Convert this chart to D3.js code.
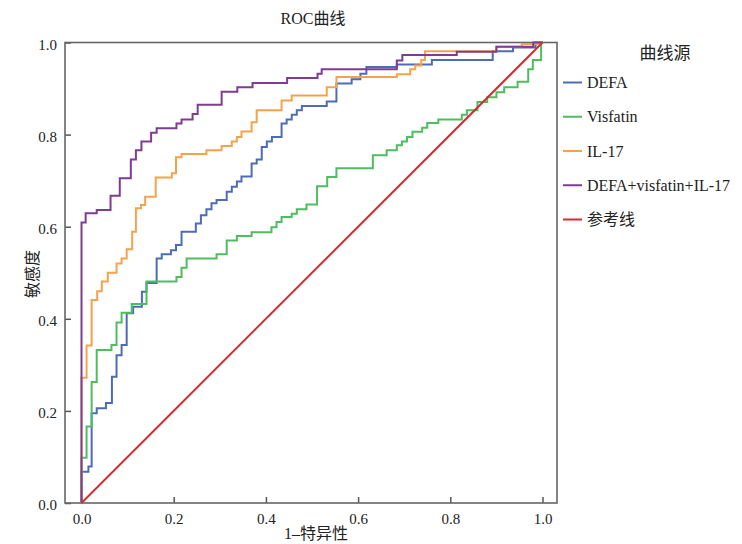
<!DOCTYPE html>
<html>
<head>
<meta charset="utf-8">
<script src="https://cdn.jsdelivr.net/npm/d3@7.9.0/dist/d3.min.js"></script>
<style>
  body { margin: 0; background: #fff; }
  svg text { font-family: "Liberation Serif", "Times New Roman", "DejaVu Serif", "Noto Sans CJK SC", serif; fill: #222; }
</style>
</head>
<body>
<svg id="chart" width="742" height="544"></svg>
<script>
// ROC points (1-specificity, sensitivity), step corners
const defaFpr = [0, 0, 0.015, 0.022, 0.033, 0.053, 0.066, 0.076, 0.087, 0.098, 0.112, 0.131, 0.141, 0.163, 0.174, 0.194, 0.205, 0.217, 0.248, 0.259, 0.271, 0.282, 0.293, 0.315, 0.326, 0.337, 0.347, 0.369, 0.380, 0.391, 0.402, 0.413, 0.434, 0.445, 0.456, 0.467, 0.478, 0.532, 0.553, 0.586, 0.605, 0.618, 0.684, 0.760, 0.892, 0.936, 0.985, 1];
const defaTpr = [0, 0.068, 0.079, 0.195, 0.206, 0.217, 0.274, 0.321, 0.343, 0.412, 0.426, 0.459, 0.478, 0.531, 0.540, 0.549, 0.560, 0.589, 0.607, 0.625, 0.638, 0.651, 0.658, 0.676, 0.687, 0.698, 0.709, 0.737, 0.746, 0.773, 0.785, 0.795, 0.824, 0.833, 0.843, 0.853, 0.862, 0.872, 0.911, 0.920, 0.932, 0.947, 0.952, 0.962, 0.981, 0.989, 1.0, 1.0];

const visFpr = [0, 0, 0.011, 0.022, 0.033, 0.065, 0.076, 0.087, 0.109, 0.141, 0.206, 0.217, 0.228, 0.293, 0.315, 0.337, 0.369, 0.412, 0.423, 0.434, 0.456, 0.467, 0.488, 0.511, 0.533, 0.553, 0.632, 0.662, 0.684, 0.695, 0.706, 0.718, 0.739, 0.750, 0.774, 0.825, 0.836, 0.859, 0.880, 0.900, 0.917, 0.946, 0.969, 0.979, 0.997, 1];
const visTpr = [0, 0.098, 0.166, 0.263, 0.332, 0.343, 0.392, 0.413, 0.432, 0.481, 0.491, 0.511, 0.531, 0.540, 0.570, 0.580, 0.588, 0.599, 0.610, 0.621, 0.628, 0.638, 0.648, 0.688, 0.708, 0.727, 0.755, 0.766, 0.777, 0.785, 0.795, 0.806, 0.815, 0.825, 0.833, 0.843, 0.853, 0.871, 0.881, 0.892, 0.903, 0.915, 0.942, 0.962, 1.0, 1.0];

const il17Fpr = [0, 0, 0.011, 0.022, 0.034, 0.044, 0.057, 0.076, 0.087, 0.098, 0.110, 0.118, 0.129, 0.138, 0.161, 0.196, 0.205, 0.217, 0.271, 0.304, 0.326, 0.337, 0.347, 0.369, 0.380, 0.434, 0.456, 0.532, 0.553, 0.684, 0.713, 0.724, 0.737, 0.745, 0.900, 0.955, 0.99, 1];
const il17Tpr = [0, 0.272, 0.342, 0.441, 0.460, 0.481, 0.500, 0.520, 0.531, 0.551, 0.589, 0.640, 0.647, 0.665, 0.707, 0.716, 0.751, 0.758, 0.766, 0.775, 0.785, 0.795, 0.807, 0.827, 0.853, 0.874, 0.885, 0.903, 0.925, 0.931, 0.942, 0.950, 0.962, 0.981, 0.991, 0.997, 1.0, 1.0];

const comboFpr = [0, 0, 0.009, 0.033, 0.063, 0.083, 0.107, 0.118, 0.130, 0.151, 0.163, 0.206, 0.217, 0.241, 0.252, 0.304, 0.338, 0.371, 0.446, 0.512, 0.521, 0.684, 0.696, 0.814, 0.900, 0.980, 1];
const comboTpr = [0, 0.609, 0.629, 0.636, 0.667, 0.705, 0.746, 0.766, 0.785, 0.804, 0.814, 0.824, 0.833, 0.845, 0.865, 0.893, 0.903, 0.912, 0.923, 0.932, 0.942, 0.961, 0.973, 0.980, 0.991, 1.0, 1.0];

const refFpr = [0, 1];
const refTpr = [0, 1];

const seriesNames = ["DEFA", "Visfatin", "IL-17", "DEFA+visfatin+IL-17", "参考线"];
const seriesColors = ["#4e6cb6", "#4fbd5f", "#f6a24c", "#7e3d91", "#d42b2e"];
const ticks = [0, 0.2, 0.4, 0.6, 0.8, 1.0];

const svg = d3.select("#chart");
const frameL = 65, frameR = 557, frameT = 42.5, frameB = 503;

const x = d3.scaleLinear().domain([0, 1]).range([81.5, 542.5]);
const y = d3.scaleLinear().domain([0, 1]).range([frameB, frameT]);

// title
svg.append("text").attr("x", 313).attr("y", 24).attr("text-anchor", "middle")
  .style("font-size", "16px").text("ROC曲线");

// axes, ticks point inward
const xAxis = svg.append("g").attr("transform", `translate(0,${frameB})`)
  .call(d3.axisBottom(x).tickValues(ticks).tickFormat(d3.format(".1f")).tickSize(-6).tickPadding(10));
const yAxis = svg.append("g").attr("transform", `translate(${frameL},0)`)
  .call(d3.axisLeft(y).tickValues(ticks).tickFormat(d3.format(".1f")).tickSize(-6).tickPadding(8));
[xAxis, yAxis].forEach(g => {
  g.attr("font-family", null);
  g.select(".domain").remove();
  g.selectAll(".tick line").attr("stroke", "#555").attr("stroke-width", 1.5);
  g.selectAll(".tick text").style("font-size", "15px").attr("fill", "#222");
});
yAxis.selectAll(".tick text").attr("dy", "0.45em");

// frame
svg.append("rect").attr("x", frameL).attr("y", frameT)
  .attr("width", frameR - frameL).attr("height", frameB - frameT)
  .attr("fill", "none").attr("stroke", "#666").attr("stroke-width", 1.6);

// curves
const stepLine = d3.line().x(d => x(d[0])).y(d => y(d[1])).curve(d3.curveStepAfter);
const straight = d3.line().x(d => x(d[0])).y(d => y(d[1]));

const curves = [
  [defaFpr, defaTpr],
  [visFpr, visTpr],
  [il17Fpr, il17Tpr],
  [comboFpr, comboTpr]
];

curves.forEach(([fx, ty], i) => {
  const pts = fx.map((v, k) => [v, ty[k]]);
  svg.append("path").attr("d", stepLine(pts))
    .attr("fill", "none").attr("stroke", seriesColors[i]).attr("stroke-width", 2);
});
svg.append("path").attr("d", straight(refFpr.map((v, k) => [v, refTpr[k]])))
  .attr("fill", "none").attr("stroke", seriesColors[4]).attr("stroke-width", 2);

// axis titles
svg.append("text").attr("x", 316).attr("y", 539).attr("text-anchor", "middle")
  .style("font-size", "16px").text("1–特异性");
svg.append("text").attr("transform", "translate(38,274) rotate(-90)")
  .attr("text-anchor", "middle").style("font-size", "16px").text("敏感度");

// legend
svg.append("text").attr("x", 665).attr("y", 59).attr("text-anchor", "middle")
  .style("font-size", "17px").text("曲线源");
const legendY = d3.scalePoint().domain(seriesNames).range([82.5, 219.5]);
const item = svg.append("g").selectAll("g").data(seriesNames).join("g")
  .attr("transform", d => `translate(0,${legendY(d)})`);
item.append("line").attr("x1", 563).attr("x2", 582)
  .attr("stroke", (d, i) => seriesColors[i]).attr("stroke-width", 2);
item.append("text").attr("x", 587).attr("dy", "0.35em")
  .style("font-size", "16px").text(d => d);
</script>
</body>
</html>
